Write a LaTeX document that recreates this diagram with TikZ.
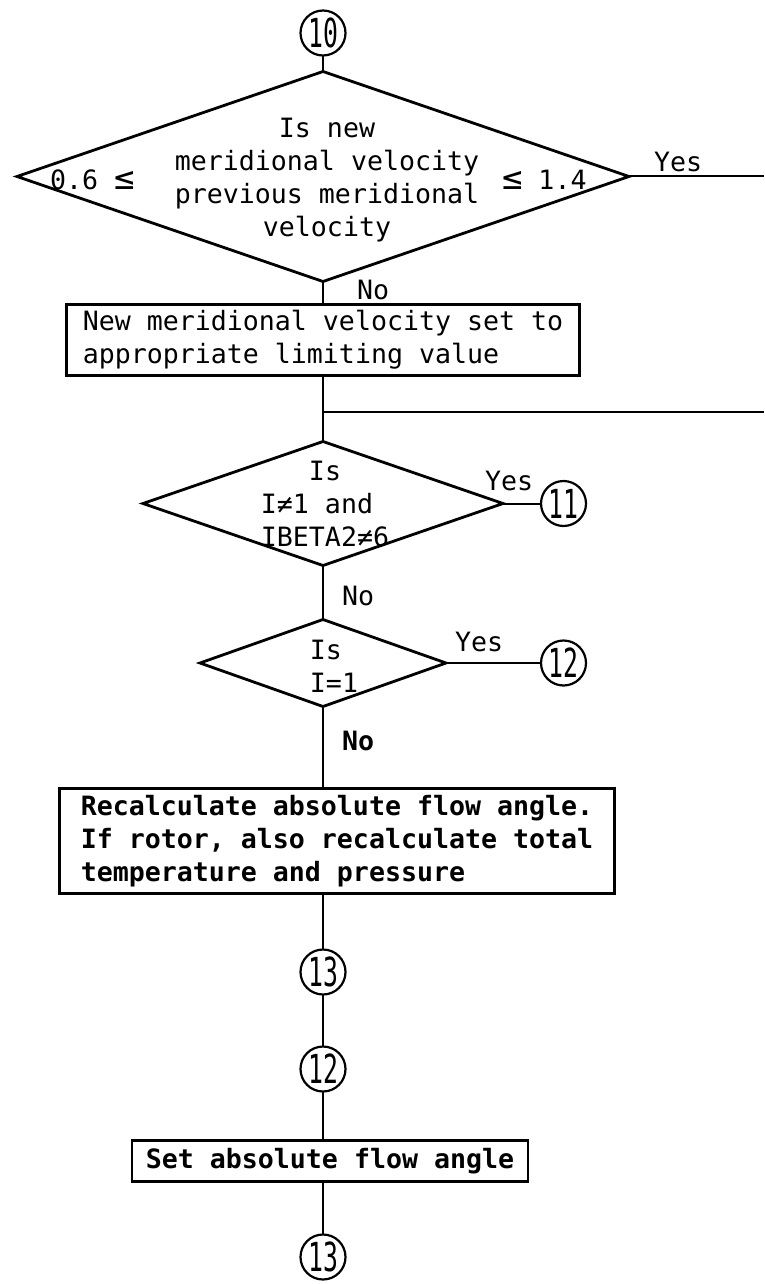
\documentclass[tikz,border=0pt]{standalone}
\usepackage{fontspec}
\setmainfont{DejaVu Sans Mono}
\usepackage{graphicx}
\usetikzlibrary{positioning,shapes.geometric}

\newcommand{\numtag}[1]{\scalebox{0.62}[1]{#1}}
\newcommand{\bigle}{{\fontsize{34}{33}\selectfont ≤}}

\begin{document}
\begin{tikzpicture}[
  x=1pt,y=-1pt,
  font=\fontsize{26.6}{33}\selectfont,
  box/.style={draw,line width=2.6pt,align=left,inner xsep=0pt,inner ysep=0pt,outer sep=0pt},
  dec/.style={draw,diamond,line width=2.8pt,inner sep=0pt,outer sep=0pt},
  conn/.style={draw,circle,line width=2.2pt,minimum size=45pt,inner sep=0pt,outer sep=0pt,
    font=\fontsize{40}{40}\selectfont},
  lbl/.style={inner sep=0pt,outer sep=0pt},
  flow/.style={line width=2pt},
]
\useasboundingbox (0,0) rectangle (764,1284);

% main column
\node[conn] (c10) at (323,33) {\numtag{10}};
\node[dec,minimum width=612pt,minimum height=210pt,below=16pt of c10] (d1) {};
\node[box,minimum width=513pt,minimum height=71pt,below=23pt of d1] (box1)
  {New meridional velocity set to\\appropriate limiting value};
\node[dec,minimum width=360pt,minimum height=124pt,below=66pt of box1] (d2) {};
\node[dec,minimum width=246pt,minimum height=87pt,below=54pt of d2] (d3) {};
\node[box,minimum width=555pt,minimum height=105pt,below=82pt of d3,xshift=14pt,
  font=\fontsize{26.6}{33}\selectfont\bfseries] (box2)
  {Recalculate absolute flow angle.\\If rotor, also recalculate total\\temperature and pressure};
\node[conn,below=56pt of box2,xshift=-14pt] (c13a) {\numtag{13}};
\node[conn,below=52pt of c13a] (c12b) {\numtag{12}};
\node[box,minimum width=396pt,minimum height=41pt,below=49pt of c12b,xshift=7pt,
  font=\fontsize{26.6}{33}\selectfont\bfseries] (box3) {Set absolute flow angle};
\node[conn,below=53pt of box3,xshift=-7pt] (c13b) {\numtag{13}};

% side exits
\node[conn,right=38pt of d2] (c11) {\numtag{11}};
\node[conn,right=95pt of d3] (c12) {\numtag{12}};
\coordinate (rim) at (764,0);
\coordinate (exit2) at (764,412);

% texts in the decisions
\node[align=center] (q1) at ([xshift=4pt,yshift=-4pt]d1.center)
  {Is new\\meridional velocity\\previous meridional\\velocity};
\node[lbl,anchor=west] (lo1) at ([xshift=33pt,yshift=-3pt]d1.west) {0.6 \bigle};
\node[lbl,anchor=west] (hi1) at ([xshift=-127pt,yshift=-3pt]d1.east) {\bigle\ 1.4};
\node[align=left] (q2) at ([xshift=2pt]d2.center)
  {\hphantom{I≠1}Is\\I≠1 and\\IBETA2≠6};
\node[align=left] (q3) at ([xshift=11pt,yshift=-3pt]d3.center) {Is\\I=1};

% branch labels
\node[lbl,anchor=south west] (yes1) at ([xshift=25pt,yshift=5pt]d1.east) {Yes};
\node[lbl,anchor=west] (no1) at ([xshift=34pt,yshift=-8pt]d1.south) {No};
\node[lbl,anchor=south west] (yes2) at ([xshift=-18pt,yshift=13pt]d2.east) {Yes};
\node[lbl,anchor=west] (no2) at ([xshift=19pt,yshift=-30pt]d2.south) {No};
\node[lbl,anchor=south west] (yes3) at ([xshift=9pt,yshift=11pt]d3.east) {Yes};
\node[lbl,anchor=west,font=\fontsize{26.6}{33}\selectfont\bfseries] (no3)
  at ([xshift=19pt,yshift=-34pt]d3.south) {No};

% connectors
\draw[flow] (c10) -- (d1);
\draw[flow] (d1.east) -- (d1.east -| rim);
\draw[flow] (d1.south) -- (box1.north -| d1.south);
\draw[flow] (box1.south -| d2.north) -- (d2.north);
\draw[flow] (d2.north |- exit2) -- (exit2);
\draw[flow] (d2.east) -- (c11);
\draw[flow] (d2.south) -- (d3.north);
\draw[flow] (d3.east) -- (c12);
\draw[flow] (d3.south) -- (box2.north -| d3.south);
\draw[flow] (box2.south -| c13a) -- (c13a);
\draw[flow] (c13a) -- (c12b);
\draw[flow] (c12b) -- (box3.north -| c12b);
\draw[flow] (box3.south -| c13b) -- (c13b);
\end{tikzpicture}
\end{document}
